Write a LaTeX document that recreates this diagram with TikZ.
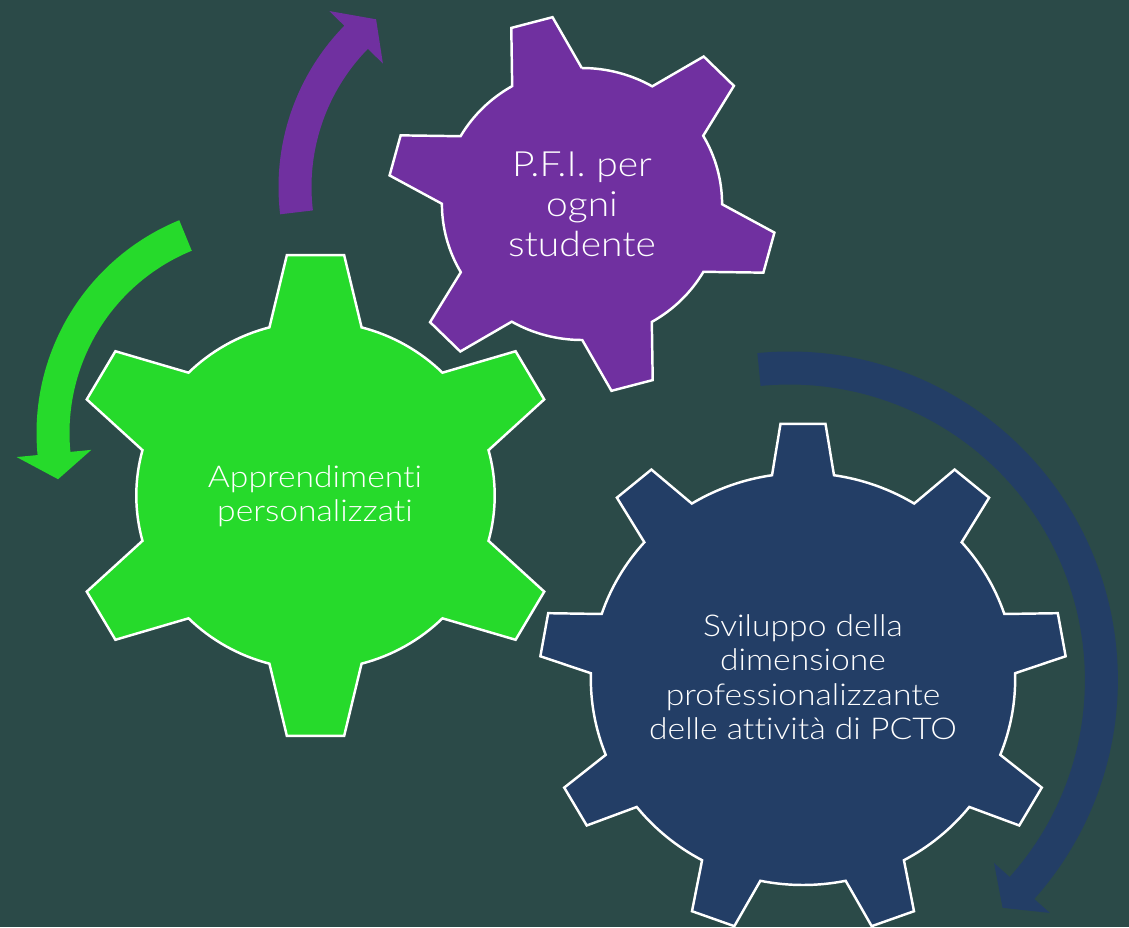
\documentclass[tikz,border=0pt]{standalone}
\usepackage{fontspec}
\setmainfont{Lato}[UprightFont=* Light, FakeStretch=1.12, Ligatures=NoCommon]

\definecolor{bgslate}{HTML}{2B4A48}
\definecolor{gearGreen}{HTML}{26DA2B}
\definecolor{gearPurple}{HTML}{7030A0}
\definecolor{gearNavy}{HTML}{233E66}

% gear: centre, teeth, first tooth angle, tip radius, body radius,
% half angle at the tip, half angle at the base, fill
\newcommand{\gearwheel}[8]{%
  \draw[gearline, fill=#8, shift={#1}, xscale=1.03] ({#3-#7}:#5)
    \foreach \tooth in {1,...,#2} {
      -- ({#3+(\tooth-1)*360/#2-#6}:#4) -- ({#3+(\tooth-1)*360/#2+#6}:#4)
      -- ({#3+(\tooth-1)*360/#2+#7}:#5)
      arc[start angle={#3+(\tooth-1)*360/#2+#7}, end angle={#3+\tooth*360/#2-#7}, radius=#5]
    } -- cycle;
}

% curved block arrow: centre, start angle, head angle, tip angle, radius, fill
\newcommand{\ringarrow}[6]{%
  \fill[#6, shift={#1}] (#2:{#5+16.5})
    arc[start angle=#2, end angle=#3, radius={#5+16.5}]
    -- (#3:{#5+37.5}) -- (#4:#5) -- (#3:{#5-37.5}) -- (#3:{#5-16.5})
    arc[start angle=#3, end angle=#2, radius={#5-16.5}] -- cycle;
}

\begin{document}
\begin{tikzpicture}[x=0.02cm,y=0.02cm,
  gearline/.style={draw=white, line width=1.4pt, line join=miter},
  gearlabel/.style={text=white, align=center, inner sep=0pt,
    font=\fontsize{17.1}{19.6}\selectfont}]

  % Background
  \fill[bgslate] (0,0) rectangle (1129,-927);

  % Curved arrows
  \ringarrow{(266.5,-433)}{112.3}{185.5}{192.5}{213.5}{gearGreen}
  \ringarrow{(509,-187)}{186.8}{135.6}{128.4}{214}{gearPurple}
  \ringarrow{(789.4,-680)}{95.6}{-41.8}{-46.9}{312}{gearNavy}

  % Gears
  \gearwheel{(315.5,-495.5)}{6}{90}{242}{174}{6.6}{14.9}{gearGreen}
  \gearwheel{(582,-204)}{6}{105}{189}{136}{6.3}{14.9}{gearPurple}
  \gearwheel{(803,-679)}{9}{90}{256}{206}{4.9}{8.4}{gearNavy}

  % Labels
  \node[gearlabel] (apprend) at (315,-496) {Apprendimenti\\personalizzati};
  \node[gearlabel, font=\fontsize{19.8}{22.7}\selectfont] (pfi) at (582,-204)
    {P.F.I. per\\ogni\\studente};
  \node[gearlabel] (sviluppo) at (803,-677)
    {Sviluppo della\\dimensione\\professionalizzante\\delle attività di PCTO};

\end{tikzpicture}
\end{document}
